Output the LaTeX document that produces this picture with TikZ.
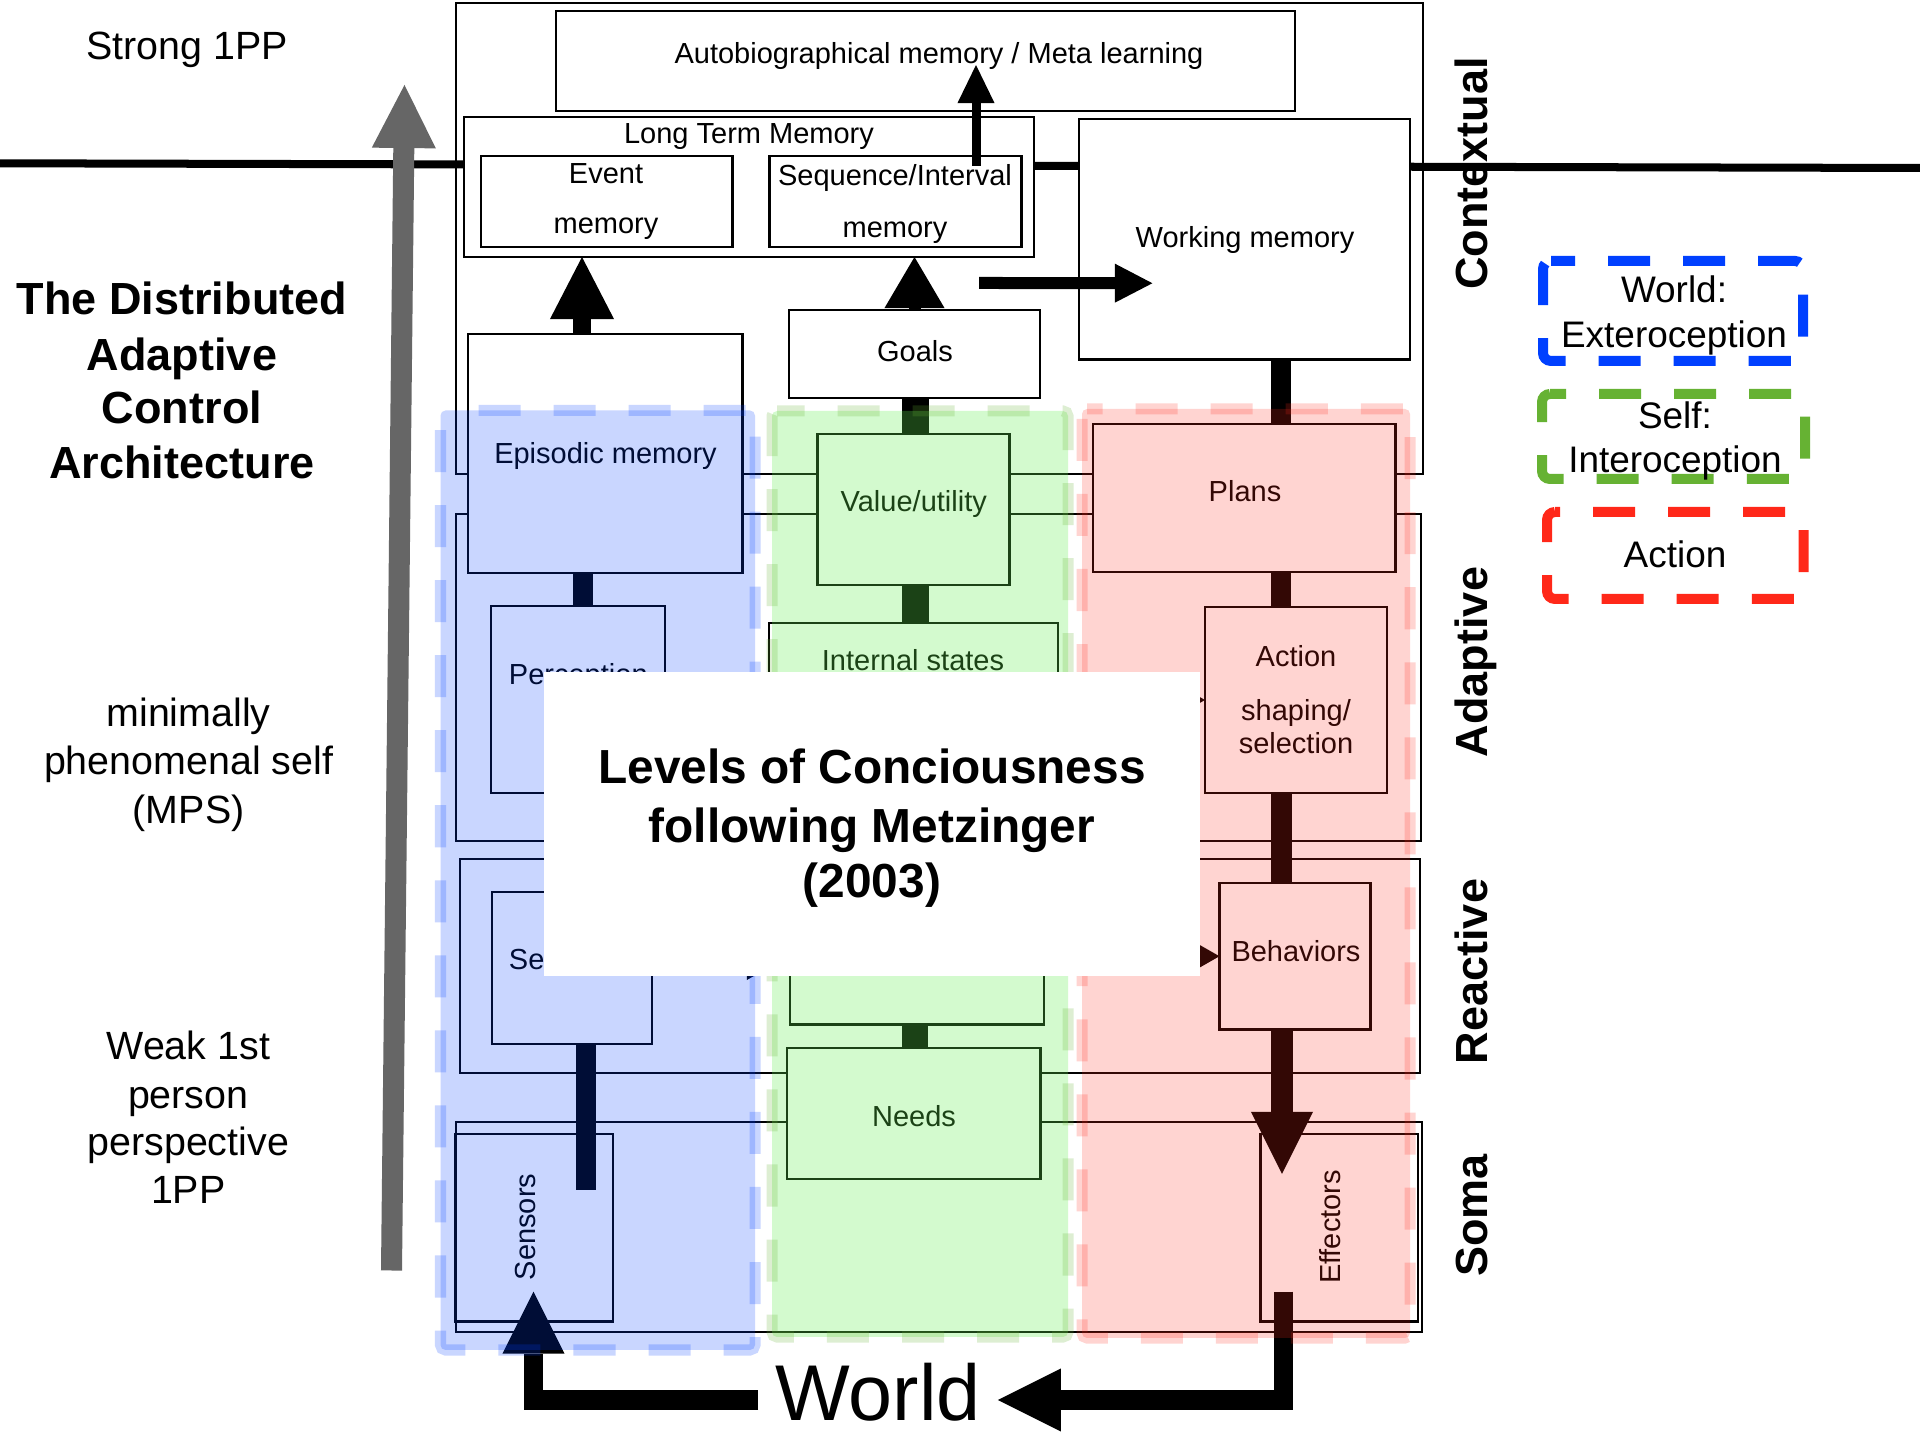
\documentclass[tikz,border=0pt]{standalone}
\usepackage{fontspec}
\setmainfont{Liberation Sans}
\usetikzlibrary{arrows.meta,calc}
\definecolor{lblue}{RGB}{0,64,255}
\definecolor{lgreen}{RGB}{102,178,51}
\definecolor{lred}{RGB}{255,40,25}
\definecolor{pgreen}{RGB}{100,240,80}
\definecolor{agray}{RGB}{102,102,102}
\begin{document}
\begin{tikzpicture}[x=0.01cm,y=-0.01cm,
 box/.style={draw=black,fill=white,line width=0.025cm,inner sep=0pt,outer sep=0pt,rectangle},
 lyr/.style={draw=black,line width=0.02cm},
 lbl/.style={inner sep=0pt,anchor=base,font=\fontsize{8.25pt}{9.9pt}\selectfont},
 rlbl/.style={lbl,rotate=90},
 leg/.style={inner sep=0pt,anchor=base,font=\fontsize{10.5pt}{12.6pt}\selectfont},
 side/.style={inner sep=0pt,anchor=base,font=\fontsize{11.2pt}{13.4pt}\selectfont},
 ttl/.style={inner sep=0pt,anchor=base,font=\fontsize{12.8pt}{15.4pt}\selectfont\bfseries},
 lvl/.style={inner sep=0pt,anchor=base,font=\fontsize{13.6pt}{16.3pt}\selectfont\bfseries},
 layer/.style={inner sep=0pt,anchor=base,rotate=90,font=\fontsize{12.8pt}{15.4pt}\selectfont\bfseries},
 legbox/.style={line width=0.10cm,dash pattern=on 0.42cm off 0.33cm,rounded corners=0.08cm},
 panel/.style={line width=0.11cm,dash pattern=on 0.42cm off 0.33cm,rounded corners=0.05cm},
 thin/.style={line width=0.02cm,-{Triangle[length=0.21cm,width=0.24cm,line width=0pt]}}
]
\fill[white] (0,0) rectangle (1920,1440);
\useasboundingbox (0,0) rectangle (1920,1440);

% horizontal divider
\coordinate (hl0) at (0,163.3);
\coordinate (hl1) at (1920,168);
\draw[line width=0.08cm] (hl0) -- (hl1);

% layer frames
\draw[lyr] (456,3) rectangle (1423,474);
\draw[lyr] (455.5,514) rectangle (1420.5,841);
\draw[lyr] (460,859.5) rectangle (1420,1073);
\draw[lyr] (455.5,1122) rectangle (1421.5,1332);

% boxes
\node[box,minimum width=7.39cm,minimum height=1.00cm] (autobio) at (925.5,61) {};
\node[box,minimum width=5.70cm,minimum height=1.40cm] (ltm) at (749,187) {};
\node[box,minimum width=2.515cm,minimum height=0.91cm] (event) at (606.75,201.5) {};
\node[box,minimum width=2.52cm,minimum height=0.91cm] (seq) at (895.5,201.5) {};
\node[box,minimum width=3.31cm,minimum height=2.405cm] (wm) at (1244.5,239.25) {};
\node[box,minimum width=2.51cm,minimum height=0.88cm] (goals) at (914.5,354) {};
\node[box,minimum width=2.745cm,minimum height=2.39cm] (epis) at (605.25,453.5) {};
\node[box,minimum width=1.92cm,minimum height=1.51cm] (value) at (913.5,509.5) {};
\node[box,minimum width=3.025cm,minimum height=1.48cm] (plans) at (1244.25,498) {};
\node[box,minimum width=1.74cm,minimum height=1.87cm] (perc) at (578,699.5) {};
\node[box,minimum width=2.89cm,minimum height=1.97cm] (internal) at (913.5,721.5) {};
\node[box,minimum width=1.82cm,minimum height=1.86cm] (action) at (1296,700) {};
\node[box,minimum width=1.60cm,minimum height=1.52cm] (sensation) at (572,968) {};
\node[box,minimum width=2.54cm,minimum height=1.445cm] (allo) at (917,952) {};
\node[box,minimum width=1.51cm,minimum height=1.465cm] (behav) at (1295,956.25) {};
\node[box,minimum width=2.535cm,minimum height=1.31cm] (needs) at (913.75,1113.5) {};
\node[box,minimum width=1.575cm,minimum height=1.875cm] (sensors) at (534.25,1227.75) {};
\node[box,minimum width=1.575cm,minimum height=1.875cm] (effect) at (1339.25,1227.75) {};

% labels
\node[lbl] (t-auto) at (939,63.4) {Autobiographical memory / Meta learning};
\node[lbl] (t-ltm) at (749,144) {Long Term Memory};
\node[lbl] (t-ev1) at (606,183.3) {Event};
\node[lbl] (t-ev2) at (606,233.3) {memory};
\node[lbl] (t-sq1) at (895,186) {Sequence/Interval};
\node[lbl] (t-sq2) at (895,237.3) {memory};
\node[lbl] (t-wm) at (1245,247.3) {Working memory};
\node[lbl] (t-goals) at (915,361.7) {Goals};
\node[lbl] (t-ep) at (605.5,463.3) {Episodic memory};
\node[lbl] (t-val) at (913.75,511.7) {Value/utility};
\node[lbl] (t-plans) at (1245,501.7) {Plans};
\node[lbl] (t-int) at (913,670.7) {Internal states};
\node[lbl] (t-perc) at (578.3,684.3) {Perception};
\node[lbl] (t-sens) at (573.5,970) {Sensation};
\node[lbl] (t-act1) at (1296,667) {Action};
\node[lbl] (t-act2) at (1296,720.5) {shaping/};
\node[lbl] (t-act3) at (1296,754) {selection};
\node[lbl] (t-beh) at (1296,961.7) {Behaviors};
\node[lbl] (t-needs) at (914,1127) {Needs};
\node[rlbl] (t-sensors) at (535,1227) {Sensors};
\node[rlbl] (t-eff) at (1340,1227) {Effectors};

% thick bars
\draw[line width=0.2cm] ($(epis.south)+(-22.25,0)$) -- ($(perc.north)+(5,0)$);
\draw[line width=0.26cm] ($(goals.south)+(1,0)$) -- ($(value.north)+(2,0)$);
\draw[line width=0.26cm] ($(value.south)+(2,0)$) -- ($(internal.north)+(2,0)$);
\draw[line width=0.25cm] ($(allo.south)+(-2,0)$) -- ($(needs.north)+(1.25,0)$);
\draw[line width=0.2cm] ($(wm.south)+(36.5,0)$) -- ($(plans.north)+(36.75,0)$);
\draw[line width=0.2cm] ($(plans.south)+(36.75,0)$) -- ($(action.north)+(-15,0)$);
\draw[line width=0.21cm] ($(action.south)+(-15,0)$) -- ($(behav.north)+(-14,0)$);
\coordinate (sensin) at ($(sensors.south)+(51.75,-131.5)$);
\draw[line width=0.2cm] ($(sensation.south)+(14,0)$) -- (sensin);

% arrows
\draw[line width=0.18cm,-{Triangle[length=0.62cm,width=0.64cm,line width=0pt]}] ($(epis.north)+(-23.25,0)$) -- ($(ltm.south)+(-167,0)$);
\draw[line width=0.12cm,-{Triangle[length=0.51cm,width=0.60cm,line width=0pt]}] (goals.north) -- ($(ltm.south)+(165.5,0)$);
\coordinate (s2a) at ($(seq.north)+(80.5,10)$);
\draw[line width=0.09cm,-{Triangle[length=0.38cm,width=0.37cm,line width=0pt]}] (s2a) -- ($(autobio.south)+(50.5,-46)$);
\coordinate (w0) at ($(goals.north east)+(-61,-27)$);
\draw[line width=0.12cm,-{Triangle[length=0.375cm,width=0.39cm,line width=0pt]}] (w0) -- ($(wm.west)+(73.5,44)$);
\draw[line width=0.22cm,-{Triangle[length=0.62cm,width=0.62cm,line width=0pt]}] ($(behav.south)+(-13,0)$) -- ($(effect.north)+(-57.25,40)$);

\node[inner sep=0pt,font=\fontsize{22.5pt}{27pt}\selectfont,minimum width=2.38cm,text height=0.57cm,text depth=0pt] (world) at (878,1391.5) {World};
\draw[line width=0.19cm,-{Triangle[length=0.63cm,width=0.63cm,line width=0pt]}] ($(effect.south)+(-55.75,-30)$) |- ($(world.east)+(0,8.5)$);
\draw[line width=0.19cm,-{Triangle[length=0.62cm,width=0.62cm,line width=0pt]}] ($(world.west)+(0,8.5)$) -| ($(sensors.south)+(-0.75,-30)$);

% small arrows (mostly hidden)
\coordinate (h1) at ($(behav.west)+(-70,0)$);
\draw[thin] (h1) -- (behav.west);
\coordinate (h2) at ($(action.west)+(-80,0)$);
\draw[thin] (h2) -- (action.west);
\coordinate (h3) at ($(allo.west)+(-90,16)$);
\coordinate (h3e) at ($(allo.west)+(-22,16)$);
\draw[thin] (h3) -- (h3e);

% coloured panels
\path[panel,fill=lblue,draw=lblue,opacity=0.21,dash phase=0.42cm] (440.5,410.5) -- (755,410.5) -- (755,1350) -- (440.5,1350) -- cycle;
\path[panel,fill=pgreen,fill opacity=0.28,draw=lgreen,draw opacity=0.22,dash phase=0.145cm] (772,411) -- (1068,411) -- (1068,1337) -- (772,1337) -- cycle;
\path[panel,fill=lred,draw=lred,opacity=0.2,dash phase=0.264cm] (1082,409) -- (1410,409) -- (1410,1338) -- (1082,1338) -- cycle;

% overlay title box
\node[fill=white,inner sep=0pt,minimum width=6.56cm,minimum height=3.04cm] (lvlbox) at (872,824) {};
\node[lvl] (lv1) at (872,784) {Levels of Conciousness};
\node[lvl] (lv2) at (872,842.5) {following Metzinger};
\node[lvl] (lv3) at (872,898) {(2003)};

% legend
\draw[legbox,lblue,dash phase=0.18cm] (1543,261) -- (1803,261) -- (1803,361) -- (1543,361) -- cycle;
\draw[legbox,lgreen,dash phase=0.26cm] (1542,394) -- (1805,394) -- (1805,479) -- (1542,479) -- cycle;
\draw[legbox,lred,dash phase=0.37cm] (1547,512) -- (1803.5,512) -- (1803.5,599) -- (1547,599) -- cycle;
\node[leg] (lw1) at (1674,302.5) {World:};
\node[leg] (lw2) at (1674,348) {Exteroception};
\node[leg] (ls1) at (1675,429) {Self:};
\node[leg] (ls2) at (1675,472.5) {Interoception};
\node[leg] (lac) at (1675,567.4) {Action};

% left texts
\node[side] (s1) at (187.3,60) {Strong 1PP};
\node[ttl] (d1) at (182,315) {The Distributed};
\node[ttl] (d2) at (182,370.7) {Adaptive};
\node[ttl] (d3) at (182,424) {Control};
\node[ttl] (d4) at (182,478.3) {Architecture};
\node[side] (m1) at (188.6,727) {minimally};
\node[side] (m2) at (188.6,775) {phenomenal self};
\node[side] (m3) at (188.6,823.3) {(MPS)};
\node[side] (wk1) at (188.3,1059.3) {Weak 1st};
\node[side] (wk2) at (188.3,1108.3) {person};
\node[side] (wk3) at (188.3,1155.7) {perspective};
\node[side] (wk4) at (188.3,1203.3) {1PP};

% layer names
\node[layer] (lc) at (1487,173.5) {Contextual};
\node[layer] (lad) at (1487,662) {Adaptive};
\node[layer] (lre) at (1487,971.5) {Reactive};
\node[layer] (lso) at (1487,1215.5) {Soma};

% gray arrow
\coordinate (g0) at (391.5,1270.5);
\coordinate (g1) at (404.5,85);
\draw[agray,line width=0.21cm,-{Triangle[length=0.63cm,width=0.64cm,line width=0pt]}] (g0) -- (g1);
\end{tikzpicture}
\end{document}
